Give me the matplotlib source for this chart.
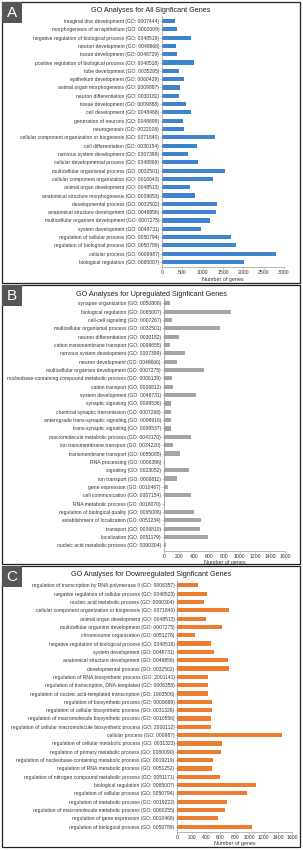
import matplotlib
matplotlib.use("Agg")
import matplotlib.pyplot as plt
from matplotlib.patches import Rectangle

plt.rcParams["font.family"] = ["Liberation Sans", "DejaVu Sans"]

W, H = 303, 850

# ---- Panel A: all significant genes ----
terms_a = [
    "imaginal disc development (GO: 0007444)",
    "morphogenesis of an epithelium (GO: 0002009)",
    "negative regulation of biological process (GO: 0048519)",
    "neuron development (GO: 0048666)",
    "tissue development (GO: 0048729)",
    "positive regulation of biological process (GO: 0048518)",
    "tube development (GO: 0035295)",
    "epithelium development (GO: 0060429)",
    "animal organ morphogenesis (GO: 0009887)",
    "neuron differentiation (GO: 0030182)",
    "tissue development (GO: 0009888)",
    "cell development (GO: 0048468)",
    "generation of neurons (GO: 0048699)",
    "neurogenesis (GO: 0022008)",
    "cellular component organization or biogenesis (GO: 0071840)",
    "cell differentiation (GO: 0030154)",
    "nervous system development (GO: 0007399)",
    "cellular developmental process (GO: 0048869)",
    "multicellular organismal process (GO: 0032501)",
    "cellular component organization (GO: 0016043)",
    "animal organ development (GO: 0048513)",
    "anatomical structure morphogenesis (GO: 0009653)",
    "developmental process (GO: 0032502)",
    "anatomical structure development (GO: 0048856)",
    "multicellular organism development (GO: 0007275)",
    "system development (GO: 0048731)",
    "regulation of cellular process (GO: 0050794)",
    "regulation of biological process (GO: 0050789)",
    "cellular process (GO: 0009987)",
    "biological regulation (GO: 0065007)",
]
counts_a = [328, 360, 721, 352, 377, 787, 426, 541, 443, 426,
            582, 705, 508, 533, 1295, 869, 631, 885, 1557, 1254,
            689, 812, 1344, 1328, 1180, 967, 1697, 1828, 2811, 2016]
ticks_a = [0, 500, 1000, 1500, 2000, 2500, 3000]

# ---- Panel B: upregulated ----
terms_b = [
    "synapse organization (GO: 0050808)",
    "biological regulation (GO: 0065007)",
    "cell-cell signaling (GO: 0007267)",
    "multicellular organismal process (GO: 0032501)",
    "neuron differentiation (GO: 0030182)",
    "cation transmembrane transport (GO: 0098655)",
    "nervous system development (GO: 0007399)",
    "neuron development (GO: 0048666)",
    "multicellular organism development (GO: 0007275)",
    "nucleobase-containing compound metabolic process (GO: 0006139)",
    "cation transport (GO: 0006812)",
    "system development (GO: 0048731)",
    "synaptic signaling (GO: 0099536)",
    "chemical synaptic transmission (GO: 0007268)",
    "anterograde trans-synaptic signaling (GO: 0098916)",
    "trans-synaptic signaling (GO: 0099537)",
    "macromolecule metabolic process (GO: 0043170)",
    "ion transmembrane transport (GO: 0034220)",
    "transmembrane transport (GO: 0055085)",
    "RNA processing (GO: 0006396)",
    "signaling (GO: 0023052)",
    "ion transport (GO: 0006811)",
    "gene expression (GO: 0010467)",
    "cell communication (GO: 0007154)",
    "RNA metabolic process (GO: 0016070)",
    "regulation of biological quality (GO: 0065008)",
    "establishment of localization (GO: 0051234)",
    "transport (GO: 0006810)",
    "localization (GO: 0051179)",
    "nucleic acid metabolic process (GO: 0090304)",
]
counts_b = [83, 890, 110, 741, 206, 88, 285, 180, 530, 105,
            123, 425, 96, 96, 96, 96, 359, 118, 210, 13,
            333, 180, 61, 355, 22, 399, 486, 477, 583, 26]
ticks_b = [0, 200, 400, 600, 800, 1000, 1200, 1400, 1600]

# ---- Panel C: downregulated ----
terms_c = [
    "regulation of transcription by RNA polymerase II (GO: 0006357)",
    "negative regulation of cellular process (GO: 0048523)",
    "nucleic acid metabolic process (GO: 0090304)",
    "cellular component organization or biogenesis (GO: 0071840)",
    "animal organ development (GO: 0048513)",
    "multicellular organims development (GO: 0007275)",
    "chromosome organization (GO: 0051276)",
    "negative regulation of biological process (GO: 0048519)",
    "system development (GO: 0048731)",
    "anatomical structure development (GO: 0048856)",
    "developmental process (GO: 0032502)",
    "regulation of RNA biosynthetic process (GO: 2001141)",
    "regulation of transcription, DNA-templated (GO: 0006355)",
    "regulation of nucleic acid-templated transcription (GO: 1903506)",
    "regulation of biosynthetic process (GO: 0009889)",
    "regulation of cellular biosynthetic process (GO: 0031326)",
    "regulation of macromolecule biosynthetic process (GO: 0010556)",
    "regulation of cellular macromolecule biosynthetic process (GO: 2000112)",
    "cellular process (GO: 000987)",
    "regulation of cellular metabolic process (GO: 0031323)",
    "regulation of primary metabolic process (GO: 0080090)",
    "regulation of nucleobase-containing metabolic process (GO: 0019219)",
    "regulation of RNA metabolic process (GO: 0051252)",
    "regulation of nitrogen compound metabolic process (GO: 0051171)",
    "biological regulation (GO: 0065007)",
    "regulation of cellular process (GO: 0050794)",
    "regulation of metabolic process (GO: 0019222)",
    "regulation of macromolecule metabolic process (GO: 0060255)",
    "regulation of gene expression (GO: 0010468)",
    "regulation of biological process (GO: 0050789)",
]
counts_c = [283, 413, 366, 723, 394, 626, 250, 468, 515, 705,
            723, 427, 427, 427, 478, 478, 473, 468, 1457, 622,
            603, 492, 483, 598, 1090, 970, 687, 659, 566, 1035]
ticks_c = [0, 200, 400, 600, 800, 1000, 1200, 1400, 1600]

panels = [
    # letter, title, terms, counts, ticks, color, box (top, bottom), axes x0/x1, first/last bar y
    ("A", "GO Analyses for All Signficant Genes", terms_a, counts_a, ticks_a,
     "#3d85d0", (2, 283), (162, 284), (21, 262)),
    ("B", "GO Analyses for Upregulated Signficant Genes", terms_b, counts_b, ticks_b,
     "#a5a5a5", (285, 564), (163.7, 285.3), (303.3, 545.3)),
    ("C", "GO Analyses for Downregulated Signficant Genes", terms_c, counts_c, ticks_c,
     "#ed7d31", (566, 847), (177.3, 292.3), (585.3, 826.7)),
]

fig = plt.figure(figsize=(W / 100, H / 100), dpi=100, facecolor="white")

for letter, title, terms, counts, ticks, color, box, xr, yr in panels:
    top, bot = box
    # panel frame
    fig.patches.append(Rectangle((2 / W, 1 - bot / H), 298 / W, (bot - top) / H,
                                 transform=fig.transFigure, fill=False,
                                 edgecolor="#222222", linewidth=0.9))
    # letter tag
    fig.patches.append(Rectangle((2 / W, 1 - (top + 21) / H), 20 / W, 21 / H,
                                 transform=fig.transFigure, facecolor="#555555",
                                 edgecolor="none"))
    fig.text(12 / W, 1 - (top + 11) / H, letter, color="white", fontsize=11,
             ha="center", va="center")
    fig.text(151 / W, 1 - (top + 9) / H, title, fontsize=5.2, ha="center",
             va="center", color="#222222")

    n = len(terms)
    step = (yr[1] - yr[0]) / (n - 1)
    pad = 0.65
    ax_top = yr[0] - pad * step
    ax_bot = yr[1] + pad * step
    ax = fig.add_axes([xr[0] / W, 1 - ax_bot / H, (xr[1] - xr[0]) / W, (ax_bot - ax_top) / H])
    ax.barh(range(n), counts, height=0.5, color=color)
    ax.set_ylim(n - 1 + pad, -pad)
    ax.set_xlim(ticks[0], ticks[-1])
    ax.set_yticks(range(n))
    ax.set_yticklabels(terms, fontsize=3.65, color="#333333")
    ax.set_xticks(ticks)
    ax.set_xticklabels([str(t) for t in ticks], fontsize=3.7, color="#333333")
    ax.set_xlabel("Number of genes", fontsize=3.9, color="#333333", labelpad=1)
    for s in ("top", "right"):
        ax.spines[s].set_visible(False)
    ax.spines["left"].set_color("#9a9a9a")
    ax.spines["bottom"].set_color("#9a9a9a")
    ax.spines["left"].set_linewidth(0.5)
    ax.spines["bottom"].set_linewidth(0.5)
    ax.tick_params(axis="y", length=1.2, width=0.4, pad=0.8, color="#9a9a9a")
    ax.tick_params(axis="x", length=1.2, width=0.4, pad=0.8, color="#9a9a9a")

fig.savefig("out.png", dpi=100, facecolor="white")
